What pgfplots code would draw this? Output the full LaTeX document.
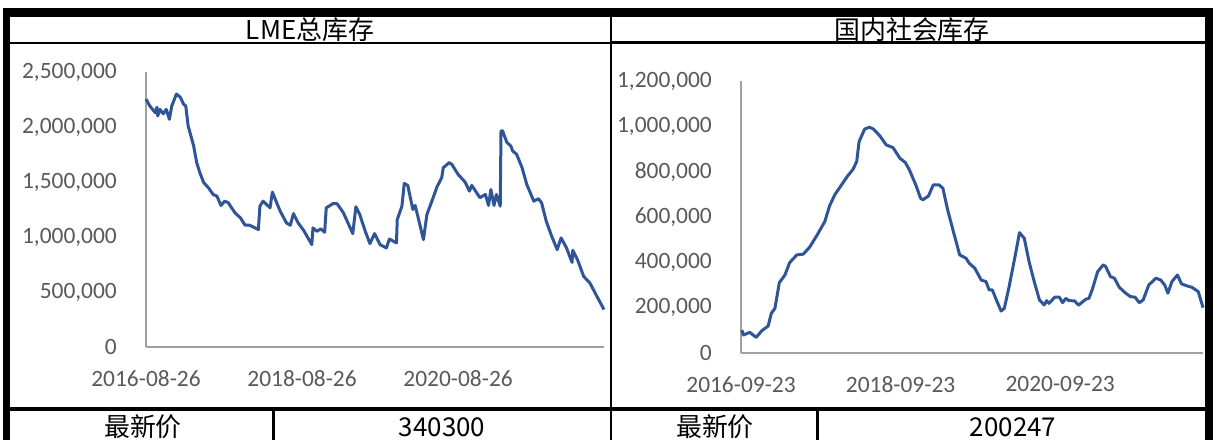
\documentclass[border=0pt]{standalone}
\usepackage{fontspec}
\setmainfont{Carlito}
\newfontfamily\cjk{Noto Sans CJK SC}
\usepackage{pgfplots}
\pgfplotsset{compat=1.18}

\definecolor{lineblue}{RGB}{47,85,151}
\definecolor{ticktext}{RGB}{89,89,89}
\definecolor{axisgray}{RGB}{160,160,160}

\pgfplotsset{panel/.style={
    scale only axis, axis lines=left,
    axis line style={-, draw=axisgray, line width=1.8bp},
    major tick length=0pt, tick style={draw=none},
    scaled y ticks=false,
    xmin=0, ymin=0, xtick={0,2,4}, clip=false,
    ticklabel style={font=\fontsize{23.5}{23.5}\selectfont, text=ticktext, inner sep=0pt},
    yticklabel style={anchor=east, xshift=-29bp},
    xticklabel style={anchor=north, yshift=-23bp},
}}
\tikzset{stock/.style={color=lineblue, line width=3bp, line join=round, mark=none}}

\begin{document}
\begin{tikzpicture}
\begin{scope}[x=1bp, y=-1bp]
  \path[use as bounding box, fill=white] (0,0) rectangle (1213,440);
\end{scope}

% LME total stocks (x in years from 2016-08-26)
\begin{axis}[panel, at={(146bp,-347bp)}, anchor=south west,
    width=458bp, height=275bp, xmax=5.87, ymax=2500000,
    ytick={0,500000,1000000,1500000,2000000,2500000},
    yticklabels={0,{500,000},{1,000,000},{1,500,000},{2,000,000},{2,500,000}},
    xticklabels={2016-08-26,2018-08-26,2020-08-26}]
\addplot[stock] coordinates {
(0.00,2254000) (0.05,2190000) (0.12,2130000) (0.14,2180000) (0.15,2100000)
(0.18,2160000) (0.22,2120000) (0.26,2160000) (0.30,2070000) (0.33,2190000)
(0.39,2300000) (0.44,2270000) (0.48,2210000) (0.51,2190000) (0.54,2010000)
(0.61,1830000) (0.65,1676000) (0.69,1585000) (0.74,1494000) (0.80,1448000)
(0.86,1387000) (0.91,1371000) (0.96,1287000) (1.01,1326000) (1.055,1311000)
(1.14,1220000) (1.21,1174000) (1.27,1107000) (1.33,1107000) (1.44,1067000)
(1.46,1280000) (1.50,1326000) (1.59,1265000) (1.62,1408000) (1.675,1311000)
(1.72,1235000) (1.80,1128000) (1.85,1107000) (1.89,1213000) (1.95,1128000)
(2.02,1061000) (2.125,931000) (2.14,1083000) (2.19,1052000) (2.24,1074000)
(2.29,1043000) (2.31,1265000) (2.40,1305000) (2.45,1302000) (2.53,1220000)
(2.65,1031000) (2.69,1275000) (2.74,1204000) (2.81,1052000) (2.87,940000)
(2.93,1031000) (3.00,931000) (3.08,900000) (3.12,982000) (3.21,946000)
(3.22,1159000) (3.28,1280000) (3.31,1487000) (3.355,1469000) (3.42,1250000)
(3.45,1287000) (3.556,976000) (3.60,1204000) (3.68,1357000) (3.73,1457000)
(3.79,1539000) (3.81,1630000) (3.885,1676000) (3.92,1660000) (4.00,1569000)
(4.09,1499000) (4.145,1417000) (4.175,1469000) (4.28,1357000) (4.35,1387000)
(4.39,1287000) (4.42,1432000) (4.46,1287000) (4.49,1387000) (4.54,1280000)
(4.55,1965000) (4.57,1965000) (4.625,1859000) (4.675,1828000) (4.70,1782000)
(4.75,1752000) (4.82,1630000) (4.88,1478000) (4.97,1326000) (5.03,1348000)
(5.07,1311000) (5.13,1143000) (5.20,1006000) (5.27,885000) (5.32,992000)
(5.39,900000) (5.46,769000) (5.47,879000) (5.53,794000) (5.61,641000)
(5.69,581000) (5.78,459000) (5.87,340300)
};
\end{axis}

% domestic social stocks (x in years from 2016-09-23)
\begin{axis}[panel, at={(741bp,-353bp)}, anchor=south west,
    width=462bp, height=272bp, xmax=5.79, ymax=1200000,
    ytick={0,200000,400000,600000,800000,1000000,1200000},
    yticklabels={0,{200,000},{400,000},{600,000},{800,000},{1,000,000},{1,200,000}},
    xticklabels={2016-09-23,2018-09-23,2020-09-23}]
\addplot[stock] coordinates {
(0.01,101500) (0.03,79500) (0.11,91000) (0.19,69000) (0.26,98000)
(0.34,119000) (0.38,175000) (0.425,197000) (0.48,310000) (0.55,344000)
(0.61,399000) (0.70,433000) (0.78,436000) (0.86,467000) (0.955,521000)
(1.05,580000) (1.11,649000) (1.175,698000) (1.26,742000) (1.33,778000)
(1.405,811000) (1.45,845000) (1.48,933000) (1.55,988000) (1.61,996000)
(1.66,988000) (1.74,958000) (1.82,918000) (1.905,906000) (1.99,860000)
(2.06,840000) (2.11,808000) (2.19,742000) (2.25,683000) (2.28,676000)
(2.35,693000) (2.41,742000) (2.48,742000) (2.53,727000) (2.59,631000)
(2.65,551000) (2.74,433000) (2.82,418000) (2.86,396000) (2.93,374000)
(3.01,322000) (3.07,315000) (3.11,278000) (3.15,278000) (3.20,234000)
(3.26,185000) (3.30,197000) (3.36,293000) (3.43,418000) (3.49,531000)
(3.55,506000) (3.61,403000) (3.68,308000) (3.74,234000) (3.80,212000)
(3.83,231000) (3.86,219000) (3.93,246000) (3.99,246000) (4.03,222000)
(4.07,241000) (4.11,231000) (4.18,230000) (4.23,211000) (4.32,237000)
(4.36,241000) (4.40,278000) (4.47,359000) (4.54,389000) (4.57,381000)
(4.63,337000) (4.68,330000) (4.74,290000) (4.82,264000) (4.88,249000)
(4.94,246000) (4.99,222000) (5.04,234000) (5.11,300000) (5.20,330000)
(5.26,322000) (5.31,300000) (5.35,264000) (5.40,315000) (5.47,344000)
(5.52,305000) (5.59,296000) (5.65,290000) (5.73,271000) (5.79,200247)
};
\end{axis}

% table frame
\begin{scope}[x=1bp, y=-1bp]
  \fill[black] (3,8) rectangle (1213,17);
  \fill[black] (3,8) rectangle (10,440);
  \fill[black] (1205,8) rectangle (1213,440);
  \draw[line width=2bp] (10,43) -- (611,43);
  \draw[line width=3bp] (611,43) -- (1205,43);
  \draw[line width=2.5bp] (611,17) -- (611,440);
  \draw[line width=3.5bp] (10,409) -- (1205,409);
  \draw[line width=3bp] (273,409) -- (273,440);
  \draw[line width=3bp] (817,409) -- (817,440);
  \begin{scope}[every node/.style={font=\cjk\fontsize{26}{26}\selectfont, inner sep=0pt}]
    \node at (310,30) {LME总库存};
    \node at (912,30) {国内社会库存};
    \node at (143,427) {最新价};
    \node at (442,427) {340300};
    \node at (715,427) {最新价};
    \node at (1013,427) {200247};
  \end{scope}
\end{scope}
\end{tikzpicture}
\end{document}
